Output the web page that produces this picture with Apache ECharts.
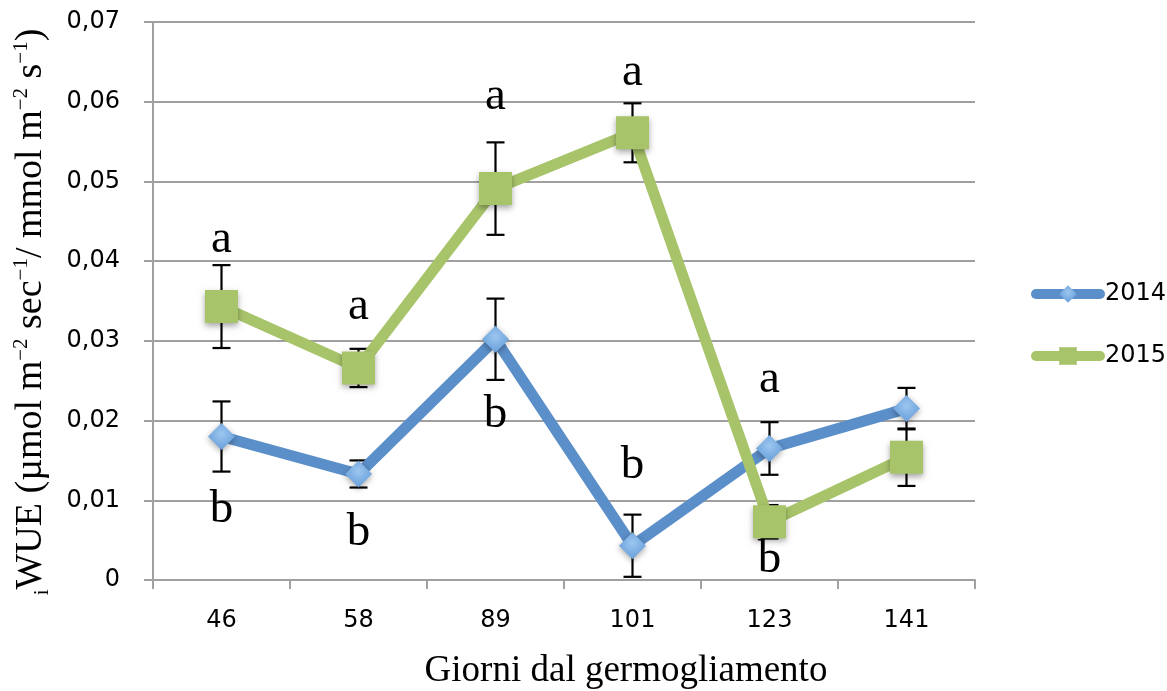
<!DOCTYPE html>
<html>
<head>
<meta charset="utf-8">
<script src="https://cdn.jsdelivr.net/npm/echarts@6/dist/echarts.min.js"></script>
<style>
  html, body { margin: 0; padding: 0; background: #fff; }
  #chart { width: 1167px; height: 691px; }
</style>
</head>
<body>
<div id="chart"></div>
<script>
// Days since budburst
const categories = ['46', '58', '89', '101', '123', '141'];

// iWUE means and error half-widths per season
const wue2014 = [0.0180, 0.0133, 0.0302, 0.0043, 0.0165, 0.0215];
const err2014 = [0.0044, 0.0017, 0.0051, 0.0039, 0.0033, 0.0026];
const wue2015 = [0.0343, 0.0266, 0.0491, 0.0561, 0.0073, 0.0154];
const err2015 = [0.0052, 0.0024, 0.0058, 0.0037, 0.0021, 0.0036];

// Significance letters (category, letter, vertical anchor in iWUE units)
const sigCats = ['46', '58', '89', '101', '123', '46', '58', '89', '101', '123'];
const sigText = ['a', 'a', 'a', 'a', 'a', 'b', 'b', 'b', 'b', 'b'];
const sigY = [0.0427, 0.0343, 0.0606, 0.0637, 0.0251, 0.0088, 0.0059, 0.0207, 0.0144, 0.0025];

const BLUE = '#5B8FC9';
const GREEN = '#A8C46A';
const GRID = '#A0A0A0';

function errorData(vals, errs) {
  return vals.map((v, i) => [i, v - errs[i], v + errs[i]]);
}

function renderErrorBar(params, api) {
  const lo = api.coord([api.value(0), api.value(1)]);
  const hi = api.coord([api.value(0), api.value(2)]);
  const half = 9;
  const style = { stroke: '#000', lineWidth: 2.2 };
  return {
    type: 'group',
    children: [
      { type: 'line', shape: { x1: lo[0], y1: lo[1], x2: hi[0], y2: hi[1] }, style },
      { type: 'line', shape: { x1: hi[0] - half, y1: hi[1], x2: hi[0] + half, y2: hi[1] }, style },
      { type: 'line', shape: { x1: lo[0] - half, y1: lo[1], x2: lo[0] + half, y2: lo[1] }, style }
    ]
  };
}

const chart = echarts.init(document.getElementById('chart'), null, { renderer: 'canvas' });

const option = {
  backgroundColor: '#fff',
  animation: false,
  grid: { left: 153, right: 192, top: 22, bottom: 111, containLabel: false },
  legend: {
    orient: 'vertical',
    left: 1031,
    top: 282,
    padding: 0,
    itemWidth: 64,
    itemHeight: 22,
    itemGap: 38,
    lineStyle: { width: 10, cap: 'round' },
    textStyle: { fontFamily: 'DejaVu Sans', fontSize: 24, color: '#000' },
    data: ['2014', '2015']
  },
  xAxis: {
    type: 'category',
    data: categories,
    boundaryGap: true,
    axisLine: { lineStyle: { color: GRID, width: 2 } },
    axisTick: { show: true, length: 9, lineStyle: { color: GRID, width: 2 } },
    axisLabel: { fontFamily: 'DejaVu Sans', fontSize: 24, color: '#000', margin: 29 }
  },
  yAxis: {
    type: 'value',
    min: 0,
    max: 0.07,
    interval: 0.01,
    axisLine: { show: true, lineStyle: { color: GRID, width: 2 } },
    axisTick: { show: true, length: 9, lineStyle: { color: GRID, width: 2 } },
    splitLine: { lineStyle: { color: GRID, width: 2 } },
    axisLabel: {
      fontFamily: 'DejaVu Sans',
      fontSize: 24,
      color: '#000',
      margin: 33,
      formatter: v => (v === 0 ? '0' : v.toFixed(2).replace('.', ','))
    }
  },
  graphic: [
    {
      type: 'text',
      x: 626,
      y: 671,
      style: {
        text: 'Giorni dal germogliamento',
        fontFamily: 'Liberation Serif',
        fontSize: 37,
        fill: '#000',
        align: 'center',
        verticalAlign: 'middle'
      }
    },
    {
      type: 'text',
      x: 31,
      y: 312,
      rotation: Math.PI / 2,
      style: {
        text: '{sub|i}WUE (µmol m{sup|−2} sec{sup|−1}/ mmol m{sup|−2} s{sup|−1})',
        fontFamily: 'Liberation Serif',
        fontSize: 38,
        lineHeight: 44,
        fill: '#000',
        align: 'center',
        verticalAlign: 'middle',
        rich: {
          sup: { fontFamily: 'Liberation Serif', fontSize: 21, lineHeight: 44, verticalAlign: 'top', fill: '#000', padding: [2, 0, 0, 0] },
          sub: { fontFamily: 'Liberation Serif', fontSize: 21, lineHeight: 44, verticalAlign: 'bottom', fill: '#000' }
        }
      }
    }
  ],
  series: [
    {
      name: 'err2014',
      type: 'custom',
      renderItem: renderErrorBar,
      data: errorData(wue2014, err2014),
      z: 1,
      silent: true
    },
    {
      name: 'err2015',
      type: 'custom',
      renderItem: renderErrorBar,
      data: errorData(wue2015, err2015),
      z: 1,
      silent: true
    },
    {
      name: '2014',
      type: 'line',
      data: wue2014,
      z: 2,
      symbol: 'diamond',
      symbolSize: 27,
      lineStyle: { color: BLUE, width: 11, cap: 'round', join: 'round' },
      itemStyle: {
        color: {
          type: 'radial', x: 0.5, y: 0.4, r: 0.7,
          colorStops: [{ offset: 0, color: '#9CC6F0' }, { offset: 1, color: '#5E98D6' }]
        },
        shadowBlur: 6,
        shadowColor: 'rgba(0,0,0,0.35)',
        shadowOffsetY: 2
      }
    },
    {
      name: '2015',
      type: 'line',
      data: wue2015,
      z: 3,
      symbol: 'rect',
      symbolSize: 33,
      lineStyle: { color: GREEN, width: 11, cap: 'round', join: 'round' },
      itemStyle: {
        color: GREEN,
        shadowBlur: 6,
        shadowColor: 'rgba(0,0,0,0.35)',
        shadowOffsetY: 3
      }
    },
    {
      name: 'letters',
      type: 'scatter',
      z: 4,
      symbol: 'circle',
      symbolSize: 2,
      silent: true,
      itemStyle: { color: 'rgba(0,0,0,0)' },
      data: sigCats.map((c, i) => ({ value: [c, sigY[i]], name: sigText[i] })),
      label: {
        show: true,
        position: 'inside',
        formatter: p => p.name,
        fontFamily: 'Liberation Serif',
        fontSize: 47,
        color: '#000',
        opacity: 1,
        textBorderWidth: 0
      }
    }
  ]
};

chart.setOption(option);
</script>
</body>
</html>
